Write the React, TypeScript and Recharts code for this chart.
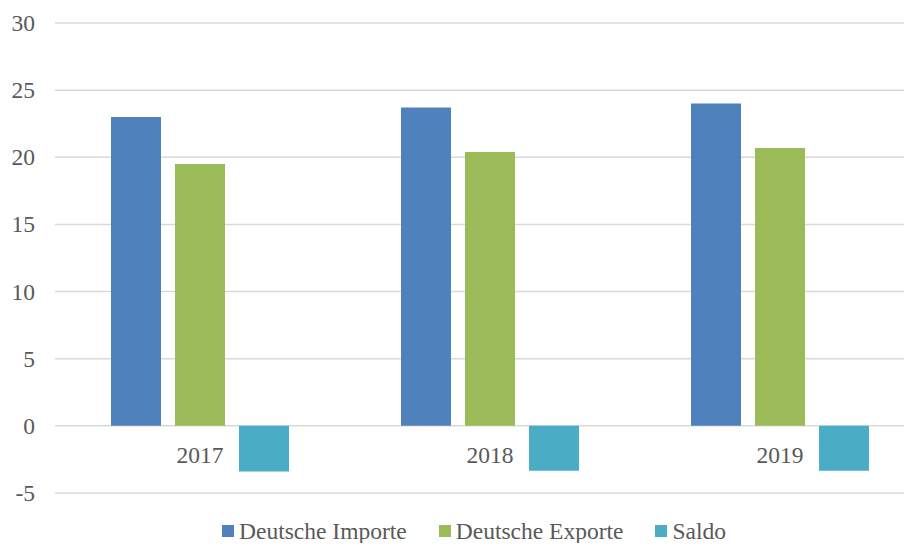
import React from 'react';
import { BarChart, Bar, XAxis, YAxis, CartesianGrid, Legend } from 'recharts';

const years = ['2017', '2018', '2019'];
const importe = [23.0, 23.7, 24.0];
const exporte = [19.5, 20.4, 20.7];
const saldo = [-3.4, -3.35, -3.35];
const yTicks = [-5, 0, 5, 10, 15, 20, 25, 30];
const seriesNames = ['Deutsche Importe', 'Deutsche Exporte', 'Saldo'];
const seriesColors = ['#4f81bd', '#9bbb59', '#4bacc6'];

const data = years.map((y, i) => ({
  year: y,
  imp: importe[i],
  exp: exporte[i],
  sal: saldo[i],
}));

const FONT = 'Liberation Serif';
const FS = 23.5;
const TEXT = '#595959';
const Y_MIN = -5;
const Y_MAX = 30;
const MARGIN_TOP = 23;
const CHART_H = 551;
const XAXIS_H = 36;
const LEGEND_H = 22;
const PLOT_H = CHART_H - MARGIN_TOP - XAXIS_H - LEGEND_H;
const ZERO_FROM_BOTTOM = ((0 - Y_MIN) / (Y_MAX - Y_MIN)) * PLOT_H;

const YTick = (props: any) => {
  const { x, y, payload } = props;
  return (
    <text x={x} y={y} dy={8} textAnchor="end" fill={TEXT} fontFamily={FONT} fontSize={FS}>
      {payload.value}
    </text>
  );
};

const XTick = (props: any) => {
  const { x, y, payload } = props;
  return (
    <text
      x={x}
      y={y - ZERO_FROM_BOTTOM + 37}
      textAnchor="middle"
      fill={TEXT}
      fontFamily={FONT}
      fontSize={FS}
    >
      {payload.value}
    </text>
  );
};

const LegendContent = () => {
  return (
    <div
      style={{
        display: 'flex',
        justifyContent: 'center',
        paddingLeft: 23,
        height: 24,
        lineHeight: '24px',
        alignItems: 'center',
        fontFamily: FONT,
        fontSize: FS,
        color: TEXT,
      }}
    >
      {seriesNames.map((name, i) => (
        <div
          key={i}
          style={{ display: 'flex', alignItems: 'center', marginRight: i < 2 ? 32 : 0 }}
        >
          <span
            style={{
              display: 'inline-block',
              width: 12,
              height: 12,
              background: seriesColors[i],
              marginRight: 5,
            }}
          />
          <span>{name}</span>
        </div>
      ))}
    </div>
  );
};

export default function App() {
  return (
    <div
      style={{
        margin: -8,
        width: 912,
        height: 551,
        overflow: 'hidden',
        background: '#fff',
        position: 'relative',
        fontFamily: FONT,
      }}
    >
      <BarChart
        width={925}
        height={CHART_H}
        data={data}
        margin={{ top: MARGIN_TOP, right: 0, left: 0, bottom: 0 }}
        barGap={14}
        barSize={50}
      >
        <CartesianGrid vertical={false} stroke="#d9d9d9" strokeWidth={1.5} />
        <YAxis
          width={55}
          domain={[Y_MIN, Y_MAX]}
          ticks={yTicks}
          axisLine={false}
          tickLine={false}
          tickSize={0}
          tickMargin={20}
          interval={0}
          tick={<YTick />}
        />
        <XAxis
          dataKey="year"
          height={XAXIS_H}
          axisLine={false}
          tickLine={false}
          tickSize={0}
          tickMargin={0}
          interval={0}
          tick={<XTick />}
        />
        <Legend
          verticalAlign="bottom"
          height={LEGEND_H}
          content={<LegendContent />}
          wrapperStyle={{ top: 519, left: 0, width: 925, bottom: 'auto' }}
        />
        <Bar dataKey="imp" name={seriesNames[0]} fill={seriesColors[0]} isAnimationActive={false} />
        <Bar dataKey="exp" name={seriesNames[1]} fill={seriesColors[1]} isAnimationActive={false} />
        <Bar dataKey="sal" name={seriesNames[2]} fill={seriesColors[2]} isAnimationActive={false} />
      </BarChart>
    </div>
  );
}
